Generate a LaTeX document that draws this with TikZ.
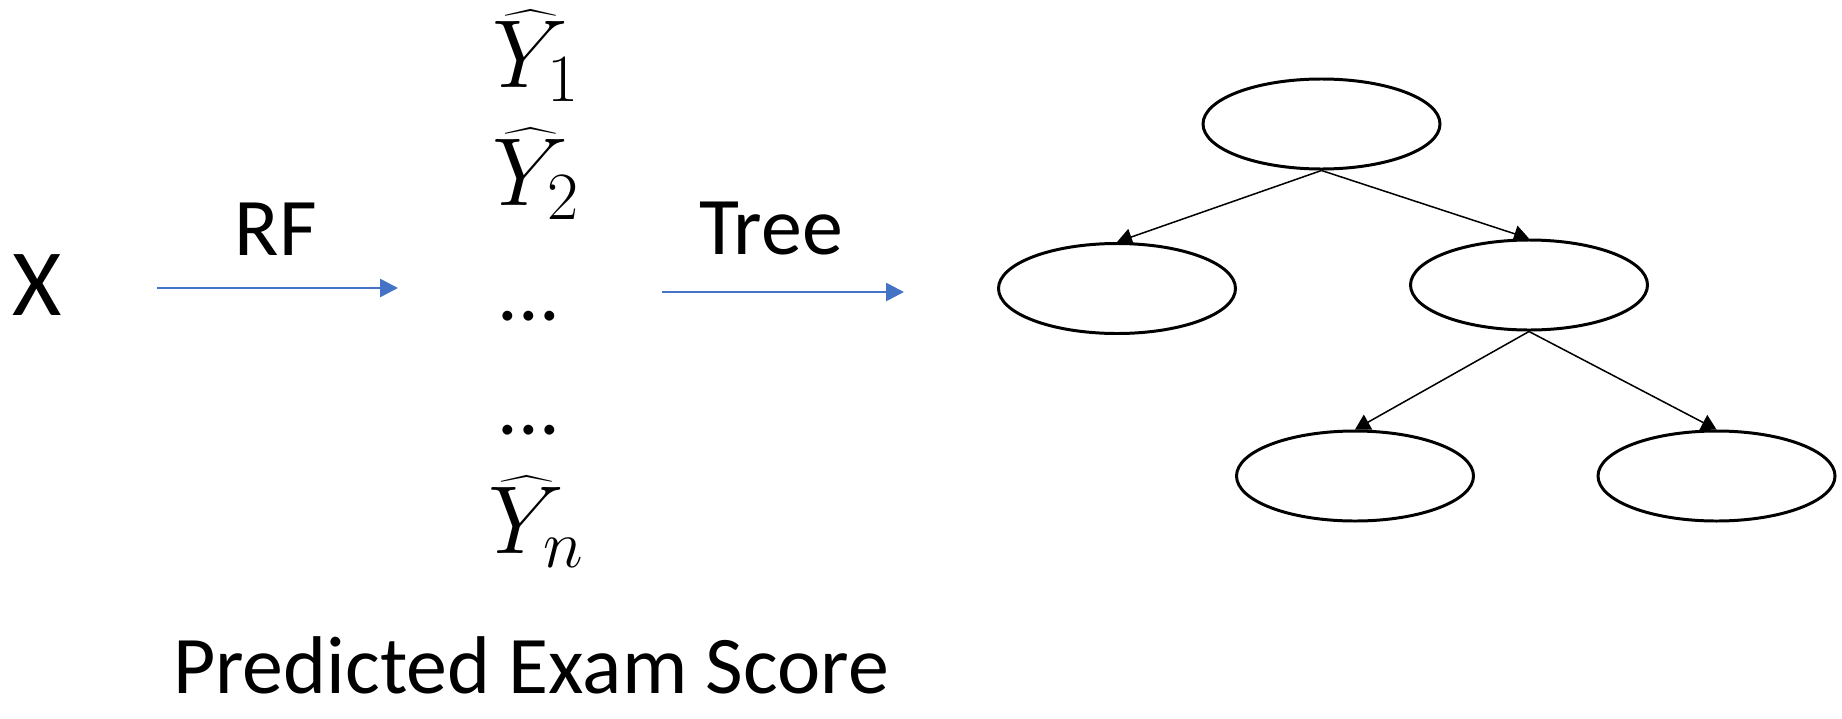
\documentclass[tikz,border=0pt]{standalone}
\usepackage{fix-cm}
\usepackage{fontspec}
\setmainfont{Carlito}
\usepackage{tikz}
\usetikzlibrary{shapes.geometric, arrows.meta, positioning}

\definecolor{flowblue}{RGB}{68,114,196}

\begin{document}
\begin{tikzpicture}[
    treenode/.style={draw, ellipse, line width=0.85pt, minimum width=2.37cm, minimum height=0.9cm, inner sep=0pt},
    txt/.style={inner sep=0pt, anchor=base, font=\fontsize{23.3pt}{28pt}\selectfont},
    yhat/.style={inner sep=0pt, anchor=base west, font=\fontsize{27.5pt}{33pt}\selectfont},
    flow/.style={-{Triangle[length=0.18cm, width=0.18cm]}, draw=flowblue, line width=0.77pt},
    split/.style={-{Triangle[length=0.15cm, width=0.17cm]}, line width=0.43pt}
]
    \useasboundingbox (0,0) rectangle (18.42,7.18);

    % input and first step
    \node[txt, font=\fontsize{27pt}{32pt}\selectfont] at (0.37,4.03) (x) {X};
    \coordinate (rfstart) at (1.57,4.30);
    \coordinate (rfend) at (3.98,4.30);
    \draw[flow] (rfstart) -- (rfend);
    \node[txt] at (2.76,4.63) (rf) {RF};

    % predictions
    \node[yhat] at (4.92,6.31) (y1) {$\widehat{Y}_1$};
    \node[yhat] at (4.92,5.13) (y2) {$\widehat{Y}_2$};
    \node[txt] at (5.29,3.98) (dots1) {...};
    \node[txt] at (5.29,2.84) (dots2) {...};
    \node[yhat] at (4.88,1.65) (yn) {$\widehat{Y}_n$};
    \node[txt] at (5.31,0.25) (caption) {Predicted Exam Score};

    % second step
    \coordinate (treestart) at (6.62,4.26);
    \coordinate (treeend) at (9.04,4.26);
    \draw[flow] (treestart) -- (treeend);
    \node[txt] at (7.71,4.64) (treelbl) {Tree};

    % the tree
    \node[treenode] at (13.215,5.94) (root) {};
    \node[treenode] at (11.17,4.295) (l) {};
    \node[treenode] at (15.29,4.33) (r) {};
    \node[treenode] at (13.55,2.42) (rl) {};
    \node[treenode] at (17.165,2.42) (rr) {};
    \draw[split] (root.south) -- (l.north);
    \draw[split] (root.south) -- (r.north);
    \draw[split] (r.south) -- (rl.north);
    \draw[split] (r.south) -- (rr.north);
\end{tikzpicture}
\end{document}
